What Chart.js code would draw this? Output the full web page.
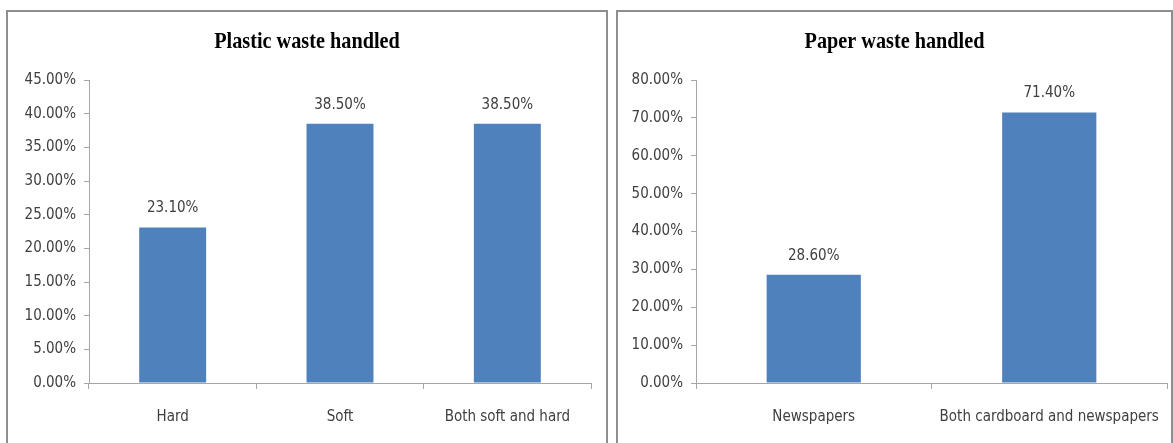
<!DOCTYPE html>
<html>
<head>
<meta charset="utf-8">
<script src="https://cdn.jsdelivr.net/npm/chart.js@4.4.0/dist/chart.umd.min.js"></script>
<style>
  html, body { margin: 0; padding: 0; background: #fff; overflow: hidden; }
  .panel { position: absolute; top: 10px; height: 450px; box-sizing: border-box; border: 2px solid #8e8e8e; background: #fff; }
  #p1 { left: 6px; width: 602px; }
  #p2 { left: 616px; width: 557px; }
  canvas { position: absolute; left: 0; top: 0; }
</style>
</head>
<body>
<div class="panel" id="p1"><canvas id="plasticChart" width="598" height="436"></canvas></div>
<div class="panel" id="p2"><canvas id="paperChart" width="553" height="436"></canvas></div>
<script>
// Dados
const plasticTitle = 'Plastic waste handled';
const plasticLabels = ['Hard', 'Soft', 'Both soft and hard'];
const plasticValues = [23.1, 38.5, 38.5];

const paperTitle = 'Paper waste handled';
const paperLabels = ['Newspapers', 'Both cardboard and newspapers'];
const paperValues = [28.6, 71.4];

const barColor = '#4f81bd';
const axisColor = '#a6a6a6';
const textColor = '#404040';
const tickFont = { family: '"DejaVu Sans Condensed", "Liberation Sans Narrow", sans-serif', size: 15 };

// titulo condensado
const titlePlugin = {
    id: 'titleDraw',
    afterDraw(chart, args, opts) {
        const ctx = chart.ctx;
        ctx.save();
        ctx.translate(chart.width / 2, 30);
        ctx.scale(0.88, 1);
        ctx.font = 'bold 23px "Liberation Serif", "Times New Roman", serif';
        ctx.fillStyle = '#000';
        ctx.textAlign = 'center';
        ctx.textBaseline = 'middle';
        ctx.fillText(opts.text, 0, 0);
        ctx.restore();
    }
};

// rotulos de valor
const valueLabels = {
    id: 'valueLabels',
    afterDatasetsDraw(chart) {
        const ctx = chart.ctx;
        const meta = chart.getDatasetMeta(0);
        const data = chart.data.datasets[0].data;
        ctx.save();
        ctx.font = `${tickFont.size}px ${tickFont.family}`;
        ctx.fillStyle = textColor;
        ctx.textAlign = 'center';
        ctx.textBaseline = 'middle';
        meta.data.forEach((bar, i) => {
            ctx.fillText(data[i].toFixed(2) + '%', bar.x, bar.y - 19);
        });
        ctx.restore();
    }
};

function criarGrafico(id, title, labels, values, maxY, step, yWidth, rightPad) {
    const ctx = document.getElementById(id).getContext('2d');
    return new Chart(ctx, {
        type: 'bar',
        data: {
            labels: labels,
            datasets: [{
                data: values,
                backgroundColor: barColor,
                borderWidth: 0,
                barPercentage: 0.4,
                categoryPercentage: 1
            }]
        },
        options: {
            responsive: false,
            animation: false,
            layout: { padding: { top: 68, left: 0, right: rightPad, bottom: 0 } },
            plugins: {
                legend: { display: false },
                tooltip: { enabled: false },
                titleDraw: { text: title }
            },
            scales: {
                x: {
                    grid: { drawOnChartArea: false, color: axisColor, tickLength: 6, offset: true },
                    border: { color: axisColor, width: 1 },
                    ticks: { color: textColor, font: tickFont, padding: 19, maxRotation: 0, autoSkip: false },
                    afterFit: s => { s.height = 65; s.paddingLeft = 0; s.paddingRight = 0; }
                },
                y: {
                    min: 0,
                    max: maxY,
                    grid: { drawOnChartArea: false, color: axisColor, tickLength: 5 },
                    border: { color: axisColor, width: 1 },
                    ticks: {
                        stepSize: step,
                        color: textColor,
                        font: tickFont,
                        padding: 8,
                        callback: v => v.toFixed(2) + '%'
                    },
                    afterFit: s => { s.width = yWidth; }
                }
            }
        },
        plugins: [titlePlugin, valueLabels]
    });
}

criarGrafico('plasticChart', plasticTitle, plasticLabels, plasticValues, 45, 5, 81, 15);
criarGrafico('paperChart', paperTitle, paperLabels, paperValues, 80, 10, 78, 4);
</script>
</body>
</html>
